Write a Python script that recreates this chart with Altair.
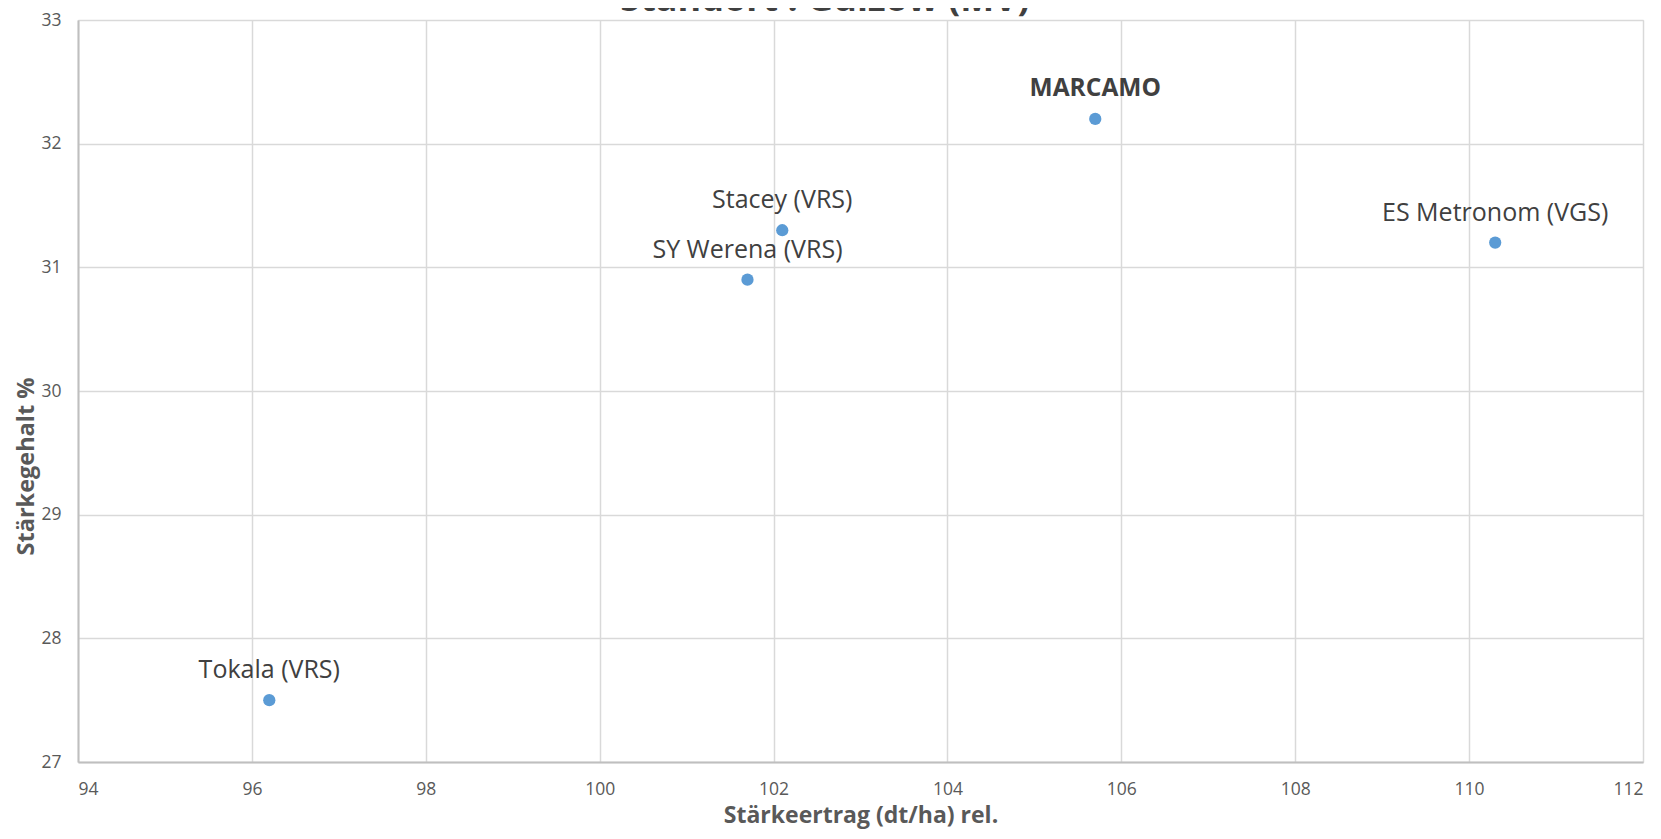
import altair as alt
import pandas as pd

sorten = ["Tokala (VRS)", "SY Werena (VRS)", "Stacey (VRS)", "MARCAMO", "ES Metronom (VGS)"]
staerkeertrag = [96.2, 101.7, 102.1, 105.7, 110.3]
staerkegehalt = [27.5, 30.9, 31.3, 32.2, 31.2]
hervorgehoben = [False, False, False, True, False]

x_ticks = [94, 96, 98, 100, 102, 104, 106, 108, 110, 112]
y_ticks = [27, 28, 29, 30, 31, 32, 33]
titel = "Standort : Gülzow (MV)"

df = pd.DataFrame({
    "Sorte": sorten,
    "Ertrag": staerkeertrag,
    "Gehalt": staerkegehalt,
    "Bold": hervorgehoben,
})

FONT = "Open Sans"

x = alt.X("Ertrag:Q",
          scale=alt.Scale(domain=[94, 112], nice=False, zero=False),
          axis=alt.Axis(values=x_ticks, title="Stärkeertrag (dt/ha) rel.",
                        grid=True, gridColor="#d9d9d9", gridWidth=1.5,
                        domainColor="#bfbfbf", domainWidth=2, ticks=False,
                        labelPadding=18, labelFontSize=17.5, labelColor="#595959",
                        labelFont=FONT, titleFont=FONT, titleFontSize=23,
                        titleFontWeight="bold", titleColor="#595959",
                        titlePadding=7))
y = alt.Y("Gehalt:Q",
          scale=alt.Scale(domain=[27, 33], nice=False, zero=False),
          axis=alt.Axis(values=y_ticks, title="Stärkegehalt %",
                        grid=True, gridColor="#d9d9d9", gridWidth=1.5,
                        domainColor="#bfbfbf", domainWidth=2, ticks=False,
                        labelPadding=17, labelFontSize=17.5, labelColor="#595959",
                        labelFont=FONT, titleFont=FONT, titleFontSize=23.5,
                        titleFontWeight="bold", titleColor="#595959",
                        titleAngle=270, titleAlign="center", titleBaseline="middle",
                        titleX=-52, titleY=446))

base = alt.Chart(df)

points = base.mark_circle(size=150, color="#5B9BD5", opacity=1).encode(x=x, y=y)

labels = base.transform_filter("!datum.Bold").mark_text(
    dy=-30, align="center", baseline="middle", font=FONT, fontSize=25, color="#404040"
).encode(x=x, y=y, text="Sorte:N")

labels_bold = base.transform_filter("datum.Bold").mark_text(
    dy=-30, align="center", baseline="middle", font=FONT, fontSize=24.5,
    fontWeight="bold", color="#404040"
).encode(x=x, y=y, text="Sorte:N")

title = base.transform_filter("datum.Bold").mark_text(
    align="center", baseline="alphabetic", font=FONT, fontSize=36,
    fontWeight="bold", color="#404040"
).encode(x=alt.value(747), y=alt.value(-9), text=alt.value(titel))

chart = (points + labels + labels_bold + title).properties(
    width=1565, height=742,
    autosize=alt.AutoSizeParams(type="none"),
    padding={"left": 70, "top": 12, "right": 10, "bottom": 68},
).configure_view(stroke=None).configure(background="white")

chart.save("out.html", embed_options={"renderer": "svg", "actions": False})
